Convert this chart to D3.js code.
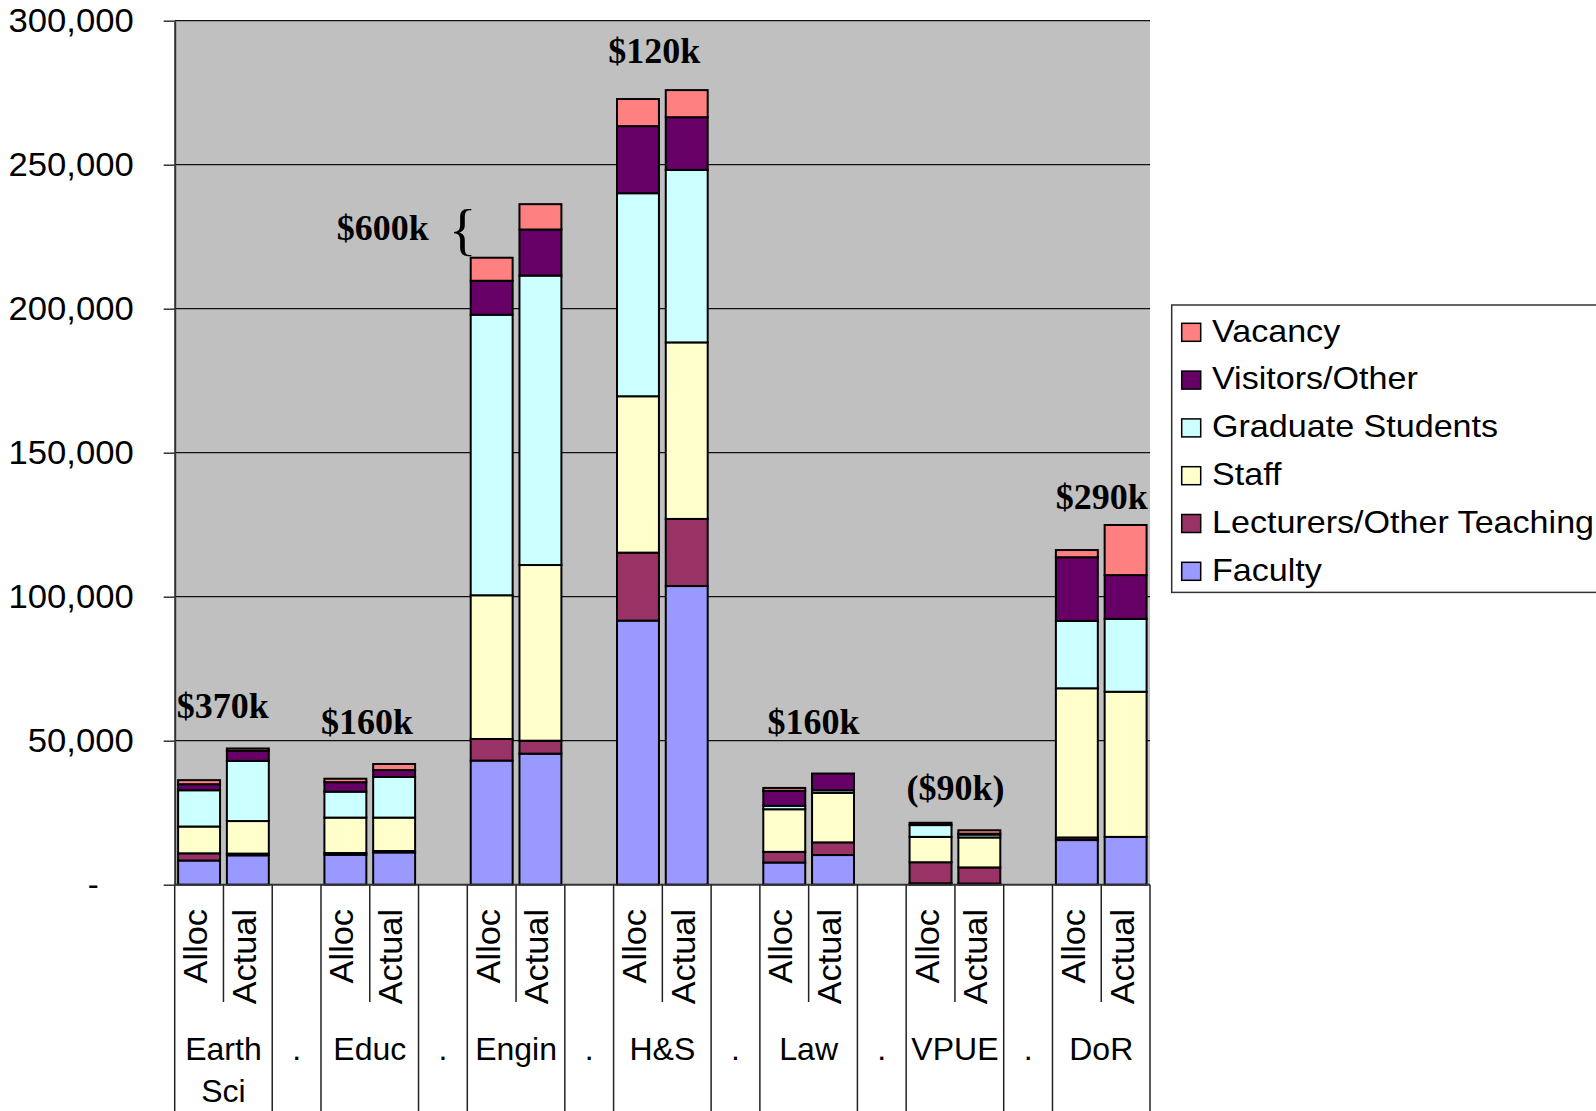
<!DOCTYPE html>
<html>
<head>
<meta charset="utf-8">
<script src="https://cdn.jsdelivr.net/npm/d3@7"></script>
<style>
  html, body { margin: 0; padding: 0; background: #fff; }
  svg { display: block; }
</style>
</head>
<body>
<svg id="chart" width="1596" height="1111"></svg>
<script>
// ---------------- DATA ----------------
const groups = ["Earth Sci", "Educ", "Engin", "H&S", "Law", "VPUE", "DoR"];
const subs = ["Alloc", "Actual"];
const yTicks = [0, 50000, 100000, 150000, 200000, 250000, 300000];

// values per bar, in order: group x (Alloc, Actual)
const faculty   = [8400, 10200, 10400, 11200, 43100, 45500, 91700, 103700, 7700, 10300, 500, 400, 15500, 16600];
const lecturers = [2500, 600, 600, 500, 7500, 4500, 23600, 23300, 3700, 4400, 7300, 5600, 900, 0];
const staff     = [9300, 11300, 12300, 11600, 49900, 61000, 54300, 61300, 14800, 17200, 8800, 10400, 51800, 50400];
const grad      = [12600, 20900, 9000, 14100, 97400, 100500, 70500, 59900, 1200, 900, 4100, 1000, 23400, 25300];
const visitors  = [2100, 3500, 3300, 2400, 11800, 16000, 23300, 18300, 5200, 5800, 800, 300, 22100, 15200];
const vacancy   = [1400, 800, 1200, 2100, 8000, 8800, 9400, 9400, 1000, 0, 0, 1200, 2500, 17400];

const seriesKeys   = ["faculty", "lecturers", "staff", "grad", "visitors", "vacancy"];
const seriesNames  = ["Faculty", "Lecturers/Other Teaching", "Staff", "Graduate Students", "Visitors/Other", "Vacancy"];
const seriesColors = ["#9999FF", "#993366", "#FFFFCC", "#CCFFFF", "#660066", "#FF8080"];
const seriesData = { faculty, lecturers, staff, grad, visitors, vacancy };

const annotations = ["$370k", "$160k", "$600k", "$120k", "$160k", "($90k)", "$290k"];

// ---------------- LAYOUT ----------------
const svg = d3.select("#chart");
const plotL = 174.7, plotR = 1150, plotT = 20.7, plotB = 884.7;
const sans = "'Liberation Sans', Arial, sans-serif";
const serif = "'Liberation Serif', 'Times New Roman', serif";

function stretch(sel, k) {
  sel.each(function() {
    const len = this.getComputedTextLength();
    d3.select(this).attr("textLength", len * k).attr("lengthAdjust", "spacingAndGlyphs");
  });
}

// slots: each group has two bars, separated by a "." spacer slot
const slots = [];
groups.forEach((g, gi) => {
  subs.forEach(s => slots.push({ key: g + "|" + s, group: g, sub: s, gap: false }));
  if (gi < groups.length - 1) slots.push({ key: "gap" + gi, group: ".", sub: "", gap: true });
});

const x = d3.scaleBand().domain(slots.map(d => d.key)).range([plotL, plotR])
  .paddingInner(0.14).paddingOuter(0.07);
const step = x.step();
const y = d3.scaleLinear().domain([0, 300000]).range([plotB, plotT]);

const rows = [];
groups.forEach((g, gi) => subs.forEach((s, si) => {
  const i = gi * 2 + si;
  const r = { key: g + "|" + s };
  seriesKeys.forEach(k => r[k] = seriesData[k][i]);
  rows.push(r);
}));
const stacked = d3.stack().keys(seriesKeys)(rows);

// plot background
svg.append("rect").attr("x", plotL).attr("y", plotT)
  .attr("width", plotR - plotL).attr("height", plotB - plotT).attr("fill", "#C0C0C0");

// gridlines
svg.append("g").selectAll("line").data(yTicks.filter(v => v > 0)).join("line")
  .attr("x1", plotL).attr("x2", plotR)
  .attr("y1", d => y(d)).attr("y2", d => y(d))
  .attr("stroke", "#111").attr("stroke-width", 1.2);

// bars
const layers = svg.append("g").selectAll("g").data(stacked).join("g")
  .attr("fill", (d, i) => seriesColors[i]);
layers.selectAll("rect").data(d => d).join("rect")
  .attr("x", d => x(d.data.key))
  .attr("width", x.bandwidth())
  .attr("y", d => y(d[1]))
  .attr("height", d => y(d[0]) - y(d[1]))
  .attr("stroke", "#000").attr("stroke-width", 2);

// y axis
const yAxis = d3.axisLeft(y).tickValues(yTicks).tickSize(11).tickSizeOuter(0).tickPadding(30)
  .tickFormat(d => d === 0 ? "-" : d3.format(",")(d));
const ya = svg.append("g").attr("transform", `translate(${plotL},0)`).call(yAxis);
ya.select(".domain").attr("stroke", "#333").attr("stroke-width", 2);
ya.selectAll(".tick line").attr("stroke", "#333").attr("stroke-width", 1.5);
ya.selectAll(".tick text").attr("font-family", sans).attr("font-size", 33).attr("fill", "#000");
ya.selectAll(".tick text").filter(d => d === 0).attr("x", -76);
stretch(ya.selectAll(".tick text").filter(d => d !== 0), 1.05);

// x baseline
svg.append("line").attr("x1", plotL).attr("x2", plotR).attr("y1", plotB).attr("y2", plotB)
  .attr("stroke", "#333").attr("stroke-width", 2);

// category separators
const bottom = 1111;
const boundaries = [];
slots.forEach((s, i) => {
  const bx = x(s.key) - (step - x.bandwidth()) / 2;
  const prev = i > 0 ? slots[i - 1] : null;
  const full = !prev || prev.group !== s.group || s.gap || prev.gap;
  boundaries.push({ x: bx, full });
});
boundaries.push({ x: plotR, full: true });
svg.append("g").selectAll("line").data(boundaries).join("line")
  .attr("x1", d => d.x).attr("x2", d => d.x)
  .attr("y1", plotB).attr("y2", d => d.full ? bottom : 1002)
  .attr("stroke", "#222").attr("stroke-width", 1.5);

// level-1 labels (rotated)
const l1 = svg.append("g").selectAll("text").data(slots.filter(s => !s.gap)).join("text")
  .attr("transform", d => `translate(${x(d.key) + x.bandwidth() / 2 + 8},909) rotate(-90)`)
  .attr("text-anchor", "end")
  .attr("font-family", sans).attr("font-size", 33).attr("fill", "#000")
  .text(d => d.sub);
stretch(l1, 1.04);

// level-2 labels (groups and spacers)
const groupCenters = [];
slots.forEach(s => {
  const last = groupCenters[groupCenters.length - 1];
  if (last && last.group === s.group && !s.gap) { last.x1 = x(s.key) + x.bandwidth(); }
  else groupCenters.push({ group: s.group, x0: x(s.key), x1: x(s.key) + x.bandwidth() });
});
const gl = svg.append("g").selectAll("text").data(groupCenters).join("text")
  .attr("x", d => (d.x0 + d.x1) / 2).attr("y", 1060)
  .attr("text-anchor", "middle")
  .attr("font-family", sans).attr("font-size", 32).attr("fill", "#000");
gl.each(function(d) {
  const words = d.group === "Earth Sci" ? ["Earth", "Sci"] : [d.group];
  const t = d3.select(this);
  words.forEach((w, i) => t.append("tspan").attr("x", (d.x0 + d.x1) / 2).attr("dy", i ? 41.7 : 0).text(w));
});

// annotations
const annPos = [
  { slot: "Earth Sci|Alloc", dx: 2,   v: 57800 },
  { slot: "Educ|Alloc",      dx: 0,   v: 52200 },
  { slot: "Engin|Alloc",     dx: -130.5, v: 223900 },
  { slot: "H&S|Alloc",       dx: -5.3, v: 285200 },
  { slot: "Law|Alloc",       dx: 7.6, v: 52200 },
  { slot: "VPUE|Alloc",      dx: 0.4, v: 29400 },
  { slot: "DoR|Alloc",       dx: 3.4, v: 130300 }
];
svg.append("g").selectAll("text").data(annotations).join("text")
  .attr("x", (d, i) => x(annPos[i].slot) - (step - x.bandwidth()) / 2 + annPos[i].dx)
  .attr("y", (d, i) => y(annPos[i].v))
  .attr("font-family", serif).attr("font-weight", "bold").attr("font-size", 36).attr("fill", "#000")
  .text(d => d);
// brace next to $600k
svg.append("text")
  .attr("x", x("Engin|Alloc") - 22).attr("y", y(223900) + 9)
  .attr("font-family", serif).attr("font-size", 58).attr("fill", "#000")
  .text("{");

// legend
const lg = svg.append("g");
lg.append("rect").attr("x", 1171.7).attr("y", 305).attr("width", 500).attr("height", 287.4)
  .attr("fill", "#fff").attr("stroke", "#333").attr("stroke-width", 1.5);
const legendOrder = d3.range(seriesKeys.length).reverse();
const li = lg.selectAll("g.item").data(legendOrder).join("g").attr("class", "item")
  .attr("transform", (d, i) => `translate(0,${i * 47.8})`);
li.append("rect").attr("x", 1181.7).attr("y", 323.3).attr("width", 19).attr("height", 18)
  .attr("fill", d => seriesColors[d]).attr("stroke", "#000").attr("stroke-width", 1.5);
const lt = li.append("text").attr("x", 1212).attr("y", 341.7)
  .attr("font-family", sans).attr("font-size", 32).attr("fill", "#000")
  .text(d => seriesNames[d]);
stretch(lt, 1.065);
</script>
</body>
</html>
